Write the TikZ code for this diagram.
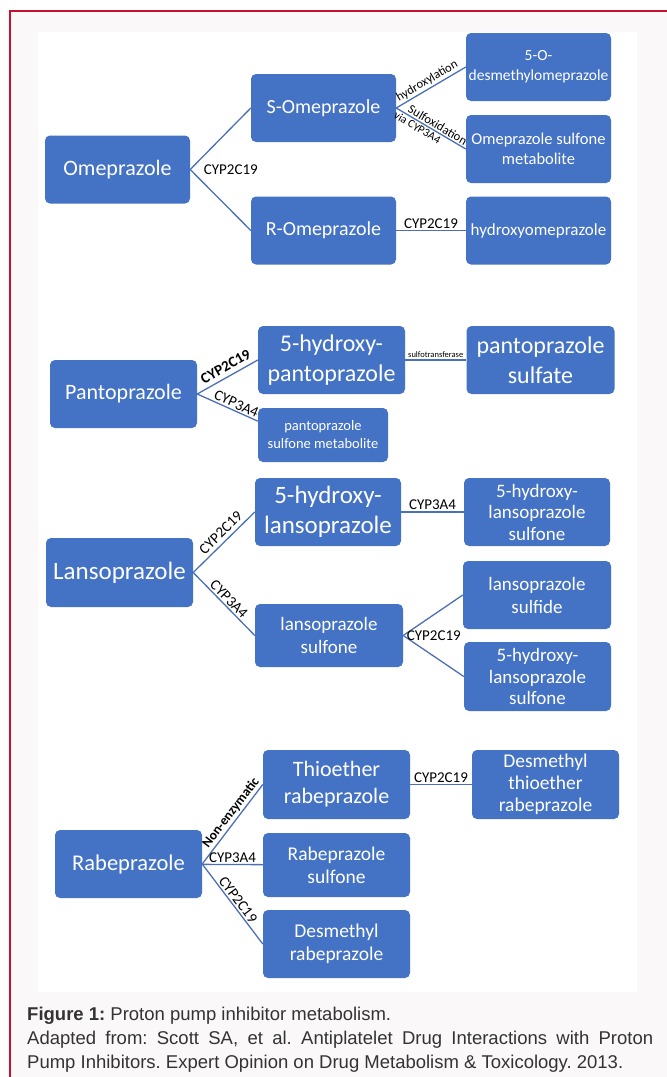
\documentclass[tikz,border=0pt]{standalone}
\usepackage{fontspec}
\setmainfont{Carlito}
\newfontfamily\capfont{Liberation Sans}
\frenchspacing

\definecolor{boxblue}{HTML}{4472C4}
\definecolor{lineblue}{HTML}{4A70B8}
\definecolor{frame}{HTML}{C8102E}
\definecolor{pagebg}{HTML}{FBF8F9}
\definecolor{capgray}{HTML}{333333}

\newcommand{\fsz}[2]{\fontsize{#1}{#2}\selectfont}

\tikzstyle{drug} = [rectangle, rounded corners=5pt, fill = boxblue, text = white, minimum width = 146pt, minimum height = 68pt, inner sep = 1pt, text centered, align=center]
\tikzstyle{line} = [draw = lineblue, line width = 1.3pt]
\tikzstyle{lab} = [font = \fsz{15}{18}, inner sep = 1.5pt]

\begin{document}
\begin{tikzpicture}[x=1pt, y=-1pt, node distance = 209pt]
        \useasboundingbox (0,0) rectangle (667,1077);
        \fill[pagebg] (10,11) rectangle (667,1077);
        \draw[frame, line width = 2pt] (10,1077) -- (10,11) -- (667,11);
        \fill[white] (38,32) rectangle (637,992);

        % Omeprazole
        \node(omep)[drug, minimum width = 145pt, font = \fsz{22}{27}] at (117.5,169.5) {Omeprazole};
        \node(s_omep)[drug, minimum width = 145pt, font = \fsz{20}{24}] at (323.5,108) {S-Omeprazole};
        \node(r_omep)[drug, minimum width = 145pt, font = \fsz{20}{24}] at (323.5,230.5) {R-Omeprazole};
        \node(desm_omep)[drug, minimum width = 145pt, font = \fsz{15.5}{20}] at (538.5,67) {5-O-\\desmethylomeprazole};
        \node(sulf_omep)[drug, minimum width = 145pt, font = \fsz{16.5}{20}] at (538.5,149) {Omeprazole sulfone\\metabolite};
        \node(hydr_omep)[drug, minimum width = 145pt, font = \fsz{17}{20}, right of = r_omep, xshift = 6pt] {hydroxyomeprazole};
        \draw[line] (omep.east) -- (s_omep.west);
        \draw[line] (omep.east) -- (r_omep.west);
        \node(cyp_omep)[lab, anchor = west, xshift = 12pt] at (omep.east) {CYP2C19};
        \draw[line] (s_omep.east) -- (desm_omep.west) node[lab, midway, sloped, above, font = \fsz{12.5}{15}] {hydroxylation};
        \draw[line] (s_omep.east) -- (sulf_omep.west)
            node[lab, pos = 0.55, sloped, above, font = \fsz{12.5}{15}] {Sulfoxidation}
            node[lab, pos = 0.35, sloped, below, font = \fsz{11.5}{14}] {via CYP3A4};
        \draw[line] (r_omep) -- (hydr_omep) node[lab, midway, above] {CYP2C19};

        % Pantoprazole
        \node(panto)[drug, minimum width = 147pt, font = \fsz{22}{27}] at (123.5,394) {Pantoprazole};
        \node(h_panto)[drug, minimum width = 147pt, font = \fsz{24}{30}] at (331.5,360) {5-hydroxy-\\pantoprazole};
        \node(s_panto)[drug, minimum width = 148pt, font = \fsz{24}{30}, right of = h_panto] {pantoprazole\\sulfate};
        \node(sf_panto)[drug, minimum width = 130pt, minimum height = 54pt, font = \fsz{14.5}{18}] at (323,435) {pantoprazole\\sulfone metabolite};
        \draw[line] (panto.east) -- (h_panto.west) node[lab, pos = 0.55, sloped, above = 3pt, font = \bfseries\fsz{15}{18}] {CYP2C19};
        \draw[line] (panto.east) -- (sf_panto.168) node[lab, pos = 0.6, sloped, above] {CYP3A4};
        \draw[line] (h_panto) -- (s_panto) node[lab, midway, above, font = \fsz{8.5}{10}] {sulfotransferase};

        % Lansoprazole
        \node(lanso)[drug, minimum width = 147pt, minimum height = 69pt, font = \fsz{25}{30}] at (119.5,572.5) {Lansoprazole};
        \node(h_lanso)[drug, font = \fsz{25}{30}] at (328,512) {5-hydroxy-\\lansoprazole};
        \node(hs_lanso)[drug, font = \fsz{19}{21.5}, right of = h_lanso] {5-hydroxy-\\lansoprazole\\sulfone};
        \node(s_lanso)[drug, minimum width = 148pt, minimum height = 63pt, font = \fsz{19}{23}] at (329,635.5) {lansoprazole\\sulfone};
        \node(sd_lanso)[drug, minimum width = 148pt, font = \fsz{19}{23}] at (537,595) {lansoprazole\\sulfide};
        \node(hs2_lanso)[drug, minimum width = 147pt, minimum height = 69pt, font = \fsz{19}{21.5}] at (537.5,676.5) {5-hydroxy-\\lansoprazole\\sulfone};
        \draw[line] (lanso.east) -- (h_lanso.west) node[lab, pos = 0.55, sloped, above = 2pt] {CYP2C19};
        \draw[line] (lanso.east) -- (s_lanso.west) node[lab, midway, sloped, above] {CYP3A4};
        \draw[line] (h_lanso) -- (hs_lanso) node[lab, midway, above] {CYP3A4};
        \draw[line] (s_lanso.east) -- (sd_lanso.west);
        \draw[line] (s_lanso.east) -- (hs2_lanso.west);
        \node(cyp_lanso)[lab, anchor = west, xshift = 2pt] at (s_lanso.east) {CYP2C19};

        % Rabeprazole
        \node(rabe)[drug, minimum width = 147pt, font = \fsz{22.5}{27}] at (128.5,864) {Rabeprazole};
        \node(thio)[drug, minimum width = 147pt, minimum height = 69pt, font = \fsz{22}{27}] at (336.5,784.5) {Thioether\\rabeprazole};
        \node(d_thio)[drug, minimum width = 147pt, minimum height = 69pt, font = \fsz{19.5}{22}, right of = thio] {Desmethyl\\thioether\\rabeprazole};
        \node(s_rabe)[drug, minimum width = 147pt, minimum height = 64pt, font = \fsz{19.5}{23}] at (336.5,865) {Rabeprazole\\sulfone};
        \node(d_rabe)[drug, minimum width = 147pt, font = \fsz{19.5}{23}] at (336.5,944) {Desmethyl\\rabeprazole};
        \draw[line] (rabe.east) -- (thio.west) node[lab, pos = 0.58, sloped, above, font = \bfseries\fsz{13.5}{17}] {Non-enzymatic};
        \draw[line] (rabe) -- (s_rabe) node[lab, midway, above] {CYP3A4};
        \draw[line] (rabe.east) -- (d_rabe.west) node[lab, midway, sloped, above] {CYP2C19};
        \draw[line] (thio) -- (d_thio) node[lab, midway, above] {CYP2C19};

        % caption
        \node(caption)[anchor = north west, text width = 626pt, align = justify, inner sep = 0pt, text = capgray, font = \capfont\fsz{18.5}{24}] at (27,1007)
            {\textbf{Figure 1:} Proton pump inhibitor metabolism.\\ Adapted from: Scott SA, et al. Antiplatelet Drug Interactions with Proton\linebreak Pump Inhibitors. Expert Opinion on Drug Metabolism \& Toxicology. 2013.};
\end{tikzpicture}
\end{document}
